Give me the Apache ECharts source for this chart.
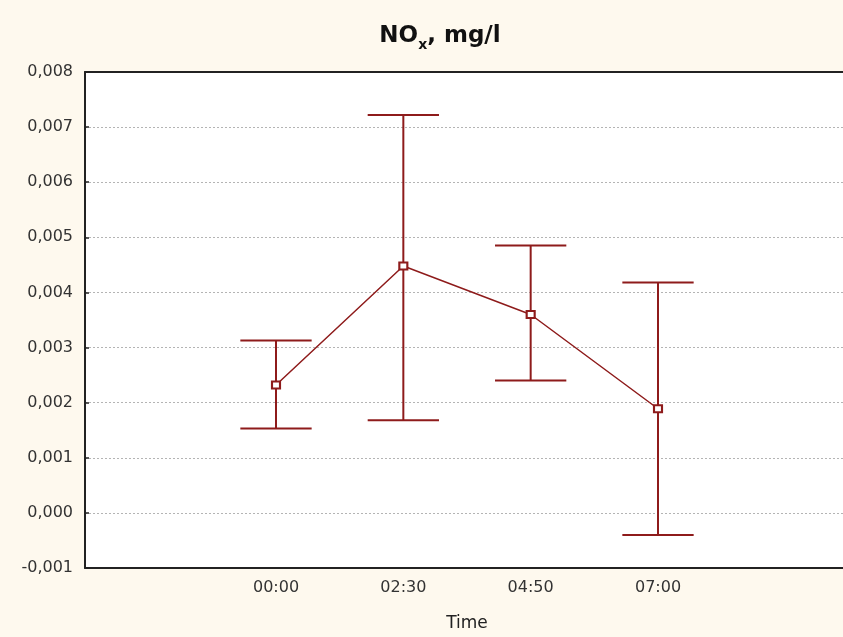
<!DOCTYPE html>
<html>
<head>
<meta charset="utf-8">
<script src="https://cdn.jsdelivr.net/npm/echarts@6/dist/echarts.min.js"></script>
<style>
html,body{margin:0;padding:0;background:#fef9ee;}
#c{width:843px;height:637px;}
</style>
</head>
<body>
<div id="c"></div>
<script>
const categories = ['00:00', '02:30', '04:50', '07:00'];
const means = [0.00232, 0.00448, 0.00360, 0.00189];
const upper = [0.00313, 0.00722, 0.00485, 0.00418];
const lower = [0.00153, 0.00168, 0.00240, -0.00040];
const yTicks = { min: -0.001, max: 0.008, interval: 0.001 };

const axisCats = [''].concat(categories, ['']);
const meanData = means.map((v, i) => [i + 1, v]);
const errData = means.map((v, i) => [i + 1, lower[i], upper[i]]);
const red = '#8e1b1b';
const FONT = 'DejaVu Sans, Liberation Sans, Arial';

const chart = echarts.init(document.getElementById('c'));
chart.setOption({
  backgroundColor: '#fef9ee',
  title: {
    text: '{a|NO}{b|x}{a|, mg/l}',
    left: 435, top: 16, textAlign: 'center',
    textStyle: {
      rich: {
        a: { fontFamily: FONT, fontWeight: 'bold', fontSize: 23, color: '#111', lineHeight: 28 },
        b: { fontFamily: FONT, fontWeight: 'bold', fontSize: 14, color: '#111', padding: [17, 0, 0, 0] }
      }
    }
  },
  grid: { left: 85, right: -6, top: 72, bottom: 69, show: true, backgroundColor: '#ffffff', borderWidth: 0,
          containLabel: false, outerBoundsMode: 'none' },
  xAxis: [{
    type: 'category', data: axisCats, boundaryGap: true, position: 'bottom',
    axisLine: { onZero: false, lineStyle: { color: '#222', width: 2 } },
    axisTick: { alignWithLabel: true, inside: true, length: 5, lineStyle: { color: '#222', width: 1.5 } },
    axisLabel: { margin: 12, fontFamily: FONT, fontSize: 16, color: '#333' },
    splitLine: { show: false },
    name: 'Time', nameLocation: 'middle', nameGap: 47,
    nameTextStyle: { fontFamily: FONT, fontSize: 17, color: '#222' }
  }, {
    type: 'category', data: axisCats, boundaryGap: true, position: 'top',
    axisLine: { onZero: false, lineStyle: { color: '#222', width: 2 } },
    axisTick: { alignWithLabel: true, inside: true, length: 4, lineStyle: { color: '#222', width: 1.5 } },
    axisLabel: { show: false }
  }],
  yAxis: {
    type: 'value', min: yTicks.min, max: yTicks.max, interval: yTicks.interval,
    axisLine: { show: true, lineStyle: { color: '#222', width: 2 } },
    axisTick: { show: true, inside: true, length: 4, lineStyle: { color: '#222', width: 1.5 } },
    axisLabel: {
      margin: 12, fontFamily: FONT, fontSize: 16, color: '#333',
      formatter: v => v.toFixed(3).replace('.', ',')
    },
    splitLine: { show: true, lineStyle: { color: '#b4b4b4', type: [2, 2], width: 1 } }
  },
  series: [{
    type: 'custom',
    data: errData,
    z: 3,
    renderItem: function (params, api) {
      const x = api.value(0);
      const lo = api.coord([x, api.value(1)]);
      const hi = api.coord([x, api.value(2)]);
      const hw = api.size([1, 0])[0] * 0.28;
      const style = { stroke: red, lineWidth: 2 };
      return {
        type: 'group',
        children: [
          { type: 'line', shape: { x1: lo[0], y1: lo[1], x2: hi[0], y2: hi[1] }, style: style },
          { type: 'line', shape: { x1: hi[0] - hw, y1: hi[1], x2: hi[0] + hw, y2: hi[1] }, style: style },
          { type: 'line', shape: { x1: lo[0] - hw, y1: lo[1], x2: lo[0] + hw, y2: lo[1] }, style: style }
        ]
      };
    }
  }, {
    type: 'line',
    data: meanData,
    z: 5,
    symbol: 'rect', symbolSize: [8, 7],
    itemStyle: { color: '#ffffff', borderColor: red, borderWidth: 2 },
    lineStyle: { color: red, width: 1.5 },
    animation: false
  }],
  animation: false
});
</script>
</body>
</html>
